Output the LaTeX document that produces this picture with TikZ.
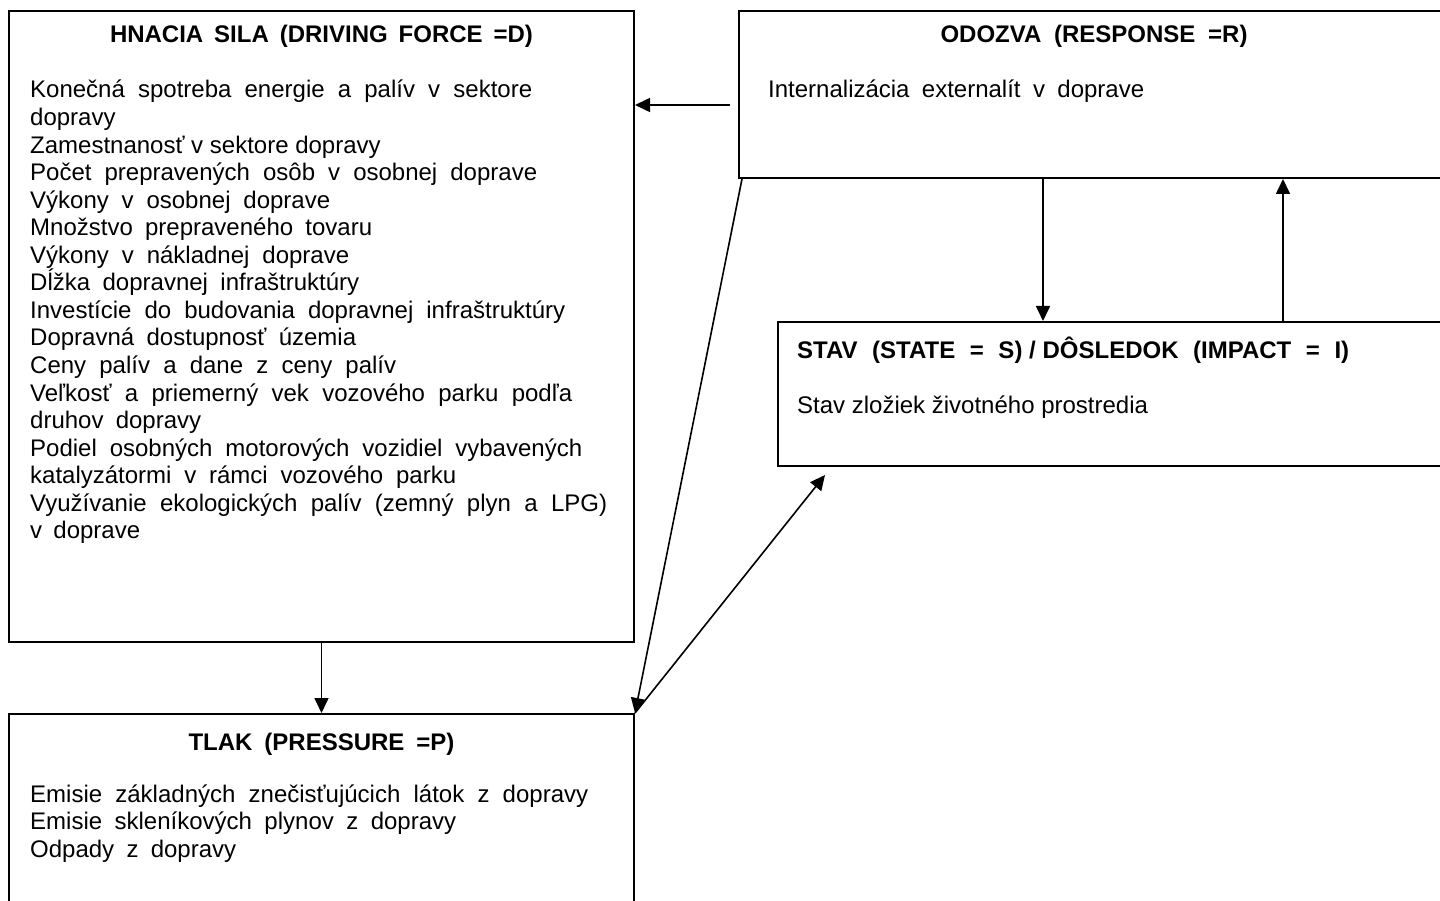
\documentclass[tikz,border=0pt]{standalone}
\usepackage{fontspec}
\setmainfont{Liberation Sans}
\usetikzlibrary{arrows.meta,positioning}
% stretch one line of text to a given width (in pt)
\newcommand{\fitline}[2]{\makebox[#1pt][s]{#2}}

\begin{document}
\begin{tikzpicture}
  [x=1pt,y=-1pt,
   every node/.style={font=\fontsize{24}{27.6}\selectfont},
   panel/.style={draw=black,line width=2pt,rectangle,anchor=north west,inner sep=0pt},
   heading/.style={inner sep=0pt,anchor=base,font=\fontsize{24}{27.6}\selectfont\bfseries},
   entry/.style={inner sep=0pt,anchor=base west},
   link/.style={line width=1.6pt,-{Triangle[length=15pt,width=14pt]}}]
\useasboundingbox (0,0) rectangle (1440,901);
\clip (0,0) rectangle (1440,901);

% Bloky modelu DPSIR
  \node[panel,minimum width=625pt,minimum height=631pt] (D) at (8,10) {};
  \node[panel,minimum width=710pt,minimum height=167pt] (R) at (738,10) {};
  \node[panel,minimum width=700pt,minimum height=144pt] (S) at (777,321) {};
  \node[panel,minimum width=625pt,minimum height=260pt] (P) at (8,713) {};

  % Nadpisy
  \node[heading] (Dh) at ([yshift=-33pt]D.north) {\fitline{423}{HNACIA SILA (DRIVING FORCE =D)}};
  \node[heading] (Rh) at ([yshift=-33pt]R.north) {\fitline{307}{ODOZVA (RESPONSE =R)}};
  \node[heading,anchor=base west] (Sh) at ([xshift=20pt,yshift=-37pt]S.north west)
    {\fitline{552}{STAV (STATE = S)\hspace{6.7pt}/\hspace{6.7pt}DÔSLEDOK (IMPACT = I)}};
  \node[heading] (Ph) at ([yshift=-37pt]P.north) {\fitline{266}{TLAK (PRESSURE =P)}};

  % Ukazovatele (0 = prirodzená šírka riadku)
  \foreach \w/\t [count=\i from 0] in {502/{Konečná spotreba energie a palív v sektore}, 0/{dopravy},
      0/{Zamestnanosť v sektore dopravy}, 507/{Počet prepravených osôb v osobnej doprave},
      300/{Výkony v osobnej doprave}, 342/{Množstvo prepraveného tovaru},
      319/{Výkony v nákladnej doprave}, 329/{Dĺžka dopravnej infraštruktúry},
      535/{Investície do budovania dopravnej infraštruktúry}, 326/{Dopravná dostupnosť územia},
      366/{Ceny palív a dane z ceny palív}, 542/{Veľkosť a priemerný vek vozového parku podľa},
      171/{druhov dopravy}, 552/{Podiel osobných motorových vozidiel vybavených},
      426/{katalyzátormi v rámci vozového parku}, 577/{Využívanie ekologických palív (zemný plyn a LPG)},
      110/{v doprave}}
    \node[entry] (d\i) at (30,{98+27.55*\i}) {\ifnum\w=0 \t\else\fitline{\w}{\t}\fi};

  \foreach \w/\t [count=\i from 0] in {558/{Emisie základných znečisťujúcich látok z dopravy},
      426/{Emisie skleníkových plynov z dopravy}, 206/{Odpady z dopravy}}
    \node[entry] (p\i) at (30,{802+27.55*\i}) {\fitline{\w}{\t}};

  \node[entry] (r0) at ([xshift=30pt,yshift=-88pt]R.north west) {\fitline{376}{Internalizácia externalít v doprave}};
  \node[entry] (s0) at ([xshift=20pt,yshift=-92pt]S.north west) {Stav zložiek životného prostredia};

  % Väzby
  \coordinate (Rin) at ([xshift=-8pt,yshift=-10.5pt]R.west);
  \coordinate (Stip) at ([xshift=48pt,yshift=-8pt]S.south west);
  \draw[link] (Rin) -- (Rin -| D.east);
  \draw[link] (D.south) -- (P.north);
  \draw[link] ([xshift=-51pt]R.south) -- ([xshift=-51pt]R.south |- S.north);
  \draw[link] ([xshift=189pt]R.south |- S.north) -- ([xshift=189pt]R.south);
  \draw[link] ([xshift=4pt]R.south west) -- (P.north east);
  \draw[link] (P.north east) -- (Stip);
\end{tikzpicture}
\end{document}
